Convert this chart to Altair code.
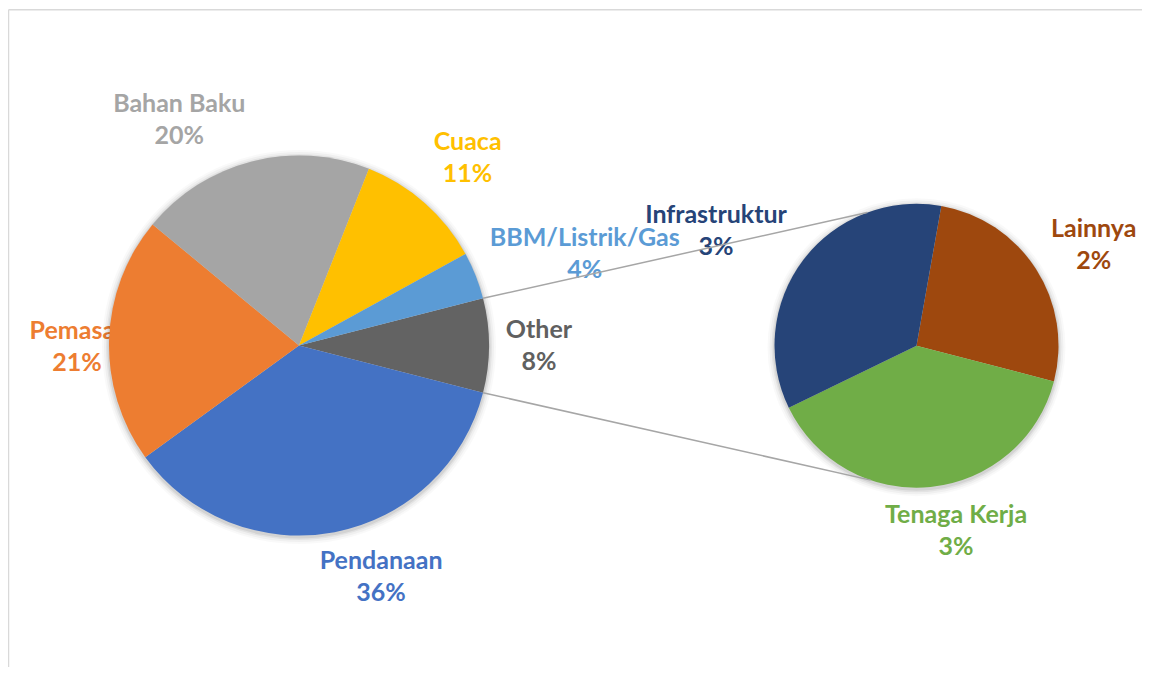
import math
import altair as alt
import pandas as pd

# ---------------- data ----------------
main_categories = ["Pendanaan", "Pemasar", "Bahan Baku", "Cuaca", "BBM/Listrik/Gas"]
main_values = [36.0, 21.0, 20.0, 11.0, 4.0]

sub_categories = ["Lainnya", "Tenaga Kerja", "Infrastruktur"]
sub_values = [2.1, 3.1, 2.8]

other_label = "Other"

# ---------------- styles / layout ----------------
COLORS = {
    "Pendanaan": "#4472C4",
    "Pemasar": "#ED7D31",
    "Bahan Baku": "#A5A5A5",
    "Cuaca": "#FFC000",
    "BBM/Listrik/Gas": "#5B9BD5",
    "Other": "#636363",
    "Infrastruktur": "#264478",
    "Lainnya": "#9E480E",
    "Tenaga Kerja": "#70AD47",
}
LABEL_COLORS = dict(COLORS, Other="#606060")

W, H = 1134, 659
OFF = 8  # page margin
MAIN_C = (299 - OFF, 345.5 - OFF)
MAIN_R = 190
SUB_C = (916.5 - OFF, 345.7 - OFF)
SUB_R = 142
SUB_START_DEG = 10.07
# label placement relative to each pie centre: (angle deg clockwise from top, radius px)
LABEL_POLAR = {
    "Bahan Baku": (332.0, 255),
    "Cuaca": (42.0, 252),
    "BBM/Listrik/Gas": (72.3, 300),
    "Other": (90.2, 240),
    "Pendanaan": (160.5, 246),
    "Pemasar": (269.7, 222),
    "Infrastruktur": (299.8, 231),
    "Lainnya": (60.3, 204),
    "Tenaga Kerja": (167.9, 189),
}
# where the connector lines meet the secondary pie (deg)
SUB_LINK_DEG = (339.7, 198.8)

FONT = "Lato"
FS = 25
LH = 32

# ---------------- tables ----------------
other_value = sum(sub_values)
order = [other_label] + main_categories
vals = [other_value] + main_values
total = sum(vals)
other_frac = other_value / total
main_start_deg = 90 - other_frac * 360 / 2

rows, c = [], 0.0
for cat, v in zip(order, vals):
    rows.append({"cat": cat, "start": c, "end": c + v, "color": COLORS[cat]})
    c += v
main_df = pd.DataFrame(rows)

rows, c = [], 0.0
for cat, v in zip(sub_categories, sub_values):
    rows.append({"cat": cat, "start": c, "end": c + v, "color": COLORS[cat]})
    c += v
sub_df = pd.DataFrame(rows)

def label_rows(cats, values, tot):
    out = []
    for cat, v in zip(cats, values):
        ang, rad = LABEL_POLAR[cat]
        out.append({"txt": f"{cat}\n{round(v / tot * 100)}%",
                    "ang": ang, "rad": rad, "color": LABEL_COLORS[cat]})
    return pd.DataFrame(out)

main_lab = label_rows(order, vals, total)
sub_lab = label_rows(sub_categories, sub_values, 100)

rad = math.pi / 180
main_scale = alt.Scale(domain=[0, total], range=[main_start_deg * rad, main_start_deg * rad + 2 * math.pi])
sub_scale = alt.Scale(domain=[0, other_value], range=[SUB_START_DEG * rad, SUB_START_DEG * rad + 2 * math.pi])
deg_scale = alt.Scale(domain=[0, 360], range=[0, 2 * math.pi])

# ---------------- layers ----------------
def pie(df, scale, center, r):
    return alt.Chart(df).mark_arc(outerRadius=r, stroke=None).encode(
        theta=alt.Theta("start:Q", scale=scale, stack=None),
        theta2="end:Q",
        color=alt.Color("color:N", scale=None),
        x=alt.value(center[0]), y=alt.value(center[1]),
    )

def shadow(center, r):
    layers = []
    for extra, op in [(7, 0.025), (5, 0.035), (3, 0.05), (1.5, 0.07)]:
        layers.append(
            alt.Chart(pd.DataFrame({"v": [1]})).mark_arc(
                outerRadius=r + extra, color="#000000", opacity=op
            ).encode(theta=alt.Theta("v:Q", stack=None, scale=alt.Scale(domain=[0, 1], range=[0, 2 * math.pi])),
                     x=alt.value(center[0]), y=alt.value(center[1] + 1.5))
        )
    return layers

def labels(df, center):
    return alt.Chart(df).mark_text(
        font=FONT, fontSize=FS, fontWeight="bold", lineBreak="\n", lineHeight=LH,
        align="center", baseline="middle", dy=-LH / 2,
    ).encode(
        theta=alt.Theta("ang:Q", scale=deg_scale, stack=None),
        radius=alt.Radius("rad:Q", scale=None),
        text="txt:N",
        color=alt.Color("color:N", scale=None),
        x=alt.value(center[0]), y=alt.value(center[1]),
    )

# connectors from the 'Other' slice edges to the secondary pie
a_top = main_start_deg * rad
a_bot = (main_start_deg + other_frac * 360) * rad
links = []
for a_main, a_sub in [(a_top, SUB_LINK_DEG[0] * rad), (a_bot, SUB_LINK_DEG[1] * rad)]:
    links.append({
        "x": MAIN_C[0] + MAIN_R * math.sin(a_main), "y": MAIN_C[1] - MAIN_R * math.cos(a_main),
        "x2": SUB_C[0] + SUB_R * math.sin(a_sub), "y2": SUB_C[1] - SUB_R * math.cos(a_sub),
    })
links_df = pd.DataFrame(links)
connectors = alt.Chart(links_df).mark_rule(color="#A6A6A6", strokeWidth=1.5).encode(
    x=alt.X("x:Q", scale=None), y=alt.Y("y:Q", scale=None),
    x2="x2:Q", y2="y2:Q",
)

border = alt.Chart(pd.DataFrame({"x": [0.5, 0.5], "y": [1.8, 1.8], "x2": [W, 0.5], "y2": [1.8, H]})).mark_rule(
    color="#D9D9D9", strokeWidth=1.5
).encode(x=alt.X("x:Q", scale=None), y=alt.Y("y:Q", scale=None), x2="x2:Q", y2="y2:Q")

chart = alt.layer(
    border,
    labels(main_lab, MAIN_C),
    labels(sub_lab, SUB_C),
    *shadow(MAIN_C, MAIN_R),
    *shadow(SUB_C, SUB_R),
    pie(main_df, main_scale, MAIN_C, MAIN_R),
    pie(sub_df, sub_scale, SUB_C, SUB_R),
    connectors,
).resolve_scale(theta="independent").properties(
    width=W, height=H, padding=0, autosize="none", background="white"
).configure_view(stroke=None)

chart.save("out.html", embed_options={"renderer": "svg", "actions": False})
